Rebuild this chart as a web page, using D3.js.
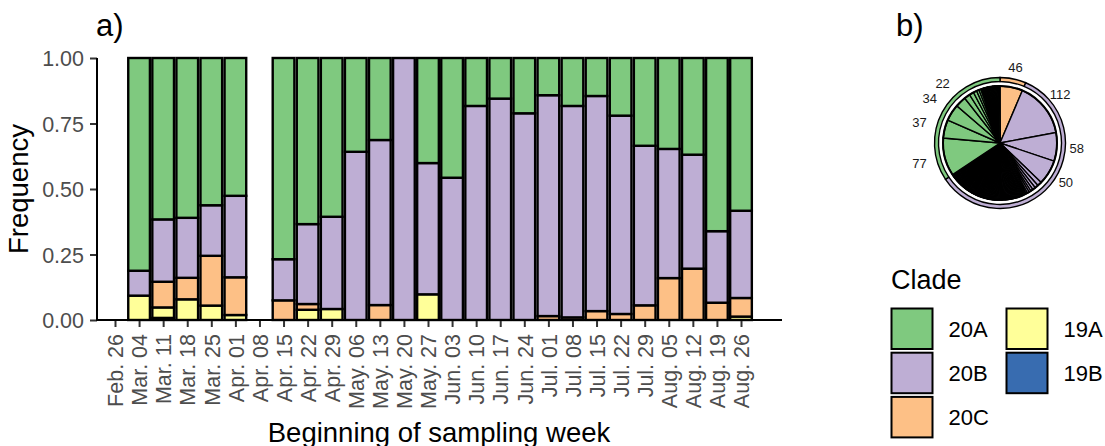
<!DOCTYPE html>
<html>
<head>
<meta charset="utf-8">
<script src="https://cdn.jsdelivr.net/npm/d3@7"></script>
<style>
  html, body { margin: 0; padding: 0; background: #fff; }
  svg { display: block; font-family: "Liberation Sans", Arial, Helvetica, sans-serif; }
</style>
</head>
<body>
<svg id="chart" width="1105" height="446"></svg>
<script>
// ---------- Data ----------
const weeks = ["Feb. 26","Mar. 04","Mar. 11","Mar. 18","Mar. 25","Apr. 01","Apr. 08","Apr. 15","Apr. 22","Apr. 29",
  "May. 06","May. 13","May. 20","May. 27","Jun. 03","Jun. 10","Jun. 17","Jun. 24","Jul. 01","Jul. 08",
  "Jul. 15","Jul. 22","Jul. 29","Aug. 05","Aug. 12","Aug. 19","Aug. 26"];

const clades = ["20A","20B","20C","19A","19B"];
const cladeColors = ["#7FC97F","#BEAED4","#FDC086","#FFFF99","#386CB0"];
const stackOrder = ["19B","19A","20C","20B","20A"];

const v19B = [0,0,.008,0,0,0,0,0,0,0,0,0,0,0,0,0,0,0,0,0,0,0,0,0,0,0,0];
const v19A = [0,.093,.040,.079,.055,.019,0,0,.039,.042,0,0,0,.098,0,0,0,0,0,0,0,0,0,0,0,0,.013];
const v20C = [0,0,.098,.082,.190,.144,0,.075,.022,0,0,.057,0,0,0,0,0,0,.015,.010,.034,.023,.056,.160,.196,.066,.071];
const v20B = [0,.095,.238,.229,.193,.311,0,.157,.305,.352,.642,.630,1,.501,.543,.817,.845,.789,.843,.807,.821,.757,.609,.493,.435,.273,.333];
const v20A = [0,.812,.616,.610,.562,.526,0,.768,.634,.606,.358,.313,0,.401,.457,.183,.155,.211,.142,.183,.145,.220,.335,.347,.369,.661,.583];

const yTicks = [0, 0.25, 0.5, 0.75, 1];

// pie (b): counts per genotype, grouped by clade, each sorted descending
const pie20C = [46];
const pie20B = [112,58,50,9,7,6,5,4,4,3,3,3,2,2,2,2,
  2,2,2,2,2,2,2,2,2,2,2,2,2,2,2,2,2,2,2,2,
  1,1,1,1,1,1,1,1,1,1, 1,1,1,1,1,1,1,1,1,1, 1,1,1,1,1,1,1,1,1,1, 1,1,1,1,1,1,1,1,1,1,
  1,1,1,1,1,1,1,1,1,1, 1,1,1,1,1,1,1,1,1,1, 1,1,1,1,1,1,1,1,1,1, 1,1,1,1,1,1,1,1,1,1,
  1,1,1,1,1,1,1,1,1,1, 1,1,1,1,1,1,1,1,1,1, 1,1,1,1,1,1,1,1,1,1, 1,1];
const pie20A = [77,37,34,22,12,9,7,5,4,3,
  1,1,1,1,1,1,1,1,1,1, 1,1,1,1,1,1,1,1,1,1, 1,1,1,1,1,1,1,1,1,1, 1,1,1,1,1,1];
const pieLabelMin = 20;

// ---------- Setup ----------
const color = d3.scaleOrdinal().domain(clades).range(cladeColors);
const svg = d3.select("#chart");
svg.append("rect").attr("width",1105).attr("height",446).attr("fill","#fff");

const FONT_TICK = 21.5, FONT_TITLE = 27.5;
const panel = {left: 97, right: 782, top: 58, bottom: 320};

const x = d3.scalePoint().domain(weeks).range([115, 741]);
const step = x.step();
const barW = step * 0.9;
const y = d3.scaleLinear().domain([0,1]).range([panel.bottom, panel.top]);

// ---------- Bars ----------
const rows = weeks.map((w,i) => ({week: w, "19B": v19B[i], "19A": v19A[i], "20C": v20C[i], "20B": v20B[i], "20A": v20A[i]}));
const filled = rows.filter(r => stackOrder.some(k => r[k] > 0));
const series = d3.stack().keys(stackOrder).offset(d3.stackOffsetExpand)(filled);

const gBars = svg.append("g");
series.forEach(s => {
  gBars.selectAll(null)
    .data(s.filter(d => d[1] - d[0] > 1e-9))
    .join("rect")
    .attr("x", d => x(d.data.week) - barW/2)
    .attr("width", barW)
    .attr("y", d => y(d[1]))
    .attr("height", d => y(d[0]) - y(d[1]))
    .attr("fill", color(s.key))
    .attr("stroke", "#000")
    .attr("stroke-width", 2.4);
});

// ---------- Axes ----------
const yAxis = d3.axisLeft(y).tickValues(yTicks).tickFormat(d3.format(".2f")).tickSize(7).tickPadding(6);
const gy = svg.append("g").attr("transform", `translate(${panel.left},0)`).call(yAxis);
gy.select(".domain").remove();
gy.selectAll(".tick line").attr("stroke","#333").attr("stroke-width",2);
gy.selectAll(".tick text").attr("fill","#4d4d4d").attr("font-size",FONT_TICK)
  .attr("font-family","Liberation Sans, Arial, sans-serif").attr("dy","0.35em");

const xAxis = d3.axisBottom(x).tickSize(7).tickPadding(0);
const gx = svg.append("g").attr("transform", `translate(0,${panel.bottom})`).call(xAxis);
gx.select(".domain").remove();
gx.selectAll(".tick line").attr("stroke","#333").attr("stroke-width",2);
gx.selectAll(".tick text")
  .attr("fill","#4d4d4d").attr("font-size",FONT_TICK)
  .attr("font-family","Liberation Sans, Arial, sans-serif")
  .attr("text-anchor","end")
  .attr("transform","translate(0,14) rotate(-90)")
  .attr("x",0).attr("y",0).attr("dy","0.36em");

// axis lines
svg.append("line").attr("x1",panel.left).attr("x2",panel.left).attr("y1",panel.top).attr("y2",panel.bottom+1)
  .attr("stroke","#000").attr("stroke-width",2);
svg.append("line").attr("x1",panel.left-1).attr("x2",panel.right).attr("y1",panel.bottom).attr("y2",panel.bottom)
  .attr("stroke","#000").attr("stroke-width",2);

// titles
svg.append("text").attr("x",439).attr("y",442).attr("text-anchor","middle")
  .attr("font-size",FONT_TITLE).attr("fill","#000").text("Beginning of sampling week");
svg.append("text").attr("transform","translate(27.5,189) rotate(-90)").attr("text-anchor","middle")
  .attr("font-size",FONT_TITLE).attr("fill","#000").text("Frequency");

svg.append("text").attr("x",96).attr("y",36).attr("font-size",31).attr("fill","#000").text("a)");
svg.append("text").attr("x",896).attr("y",36).attr("font-size",31).attr("fill","#000").text("b)");

// ---------- Pie (b) ----------
const cx = 1000, cy = 143, rPie = 57;
const pieItems = [
  ...pie20C.map(v => ({clade:"20C", v})),
  ...pie20B.map(v => ({clade:"20B", v})),
  ...pie20A.map(v => ({clade:"20A", v}))
];
const gPie = svg.append("g").attr("transform", `translate(${cx},${cy})`);
const pieArcs = d3.pie().sort(null).value(d => d.v)(pieItems);
const arc = d3.arc().innerRadius(0).outerRadius(rPie);
gPie.selectAll("path.slice").data(pieArcs).join("path")
  .attr("class","slice")
  .attr("d", arc)
  .attr("fill", d => color(d.data.clade))
  .attr("stroke","#000").attr("stroke-width",1.4).attr("stroke-linejoin","miter");
gPie.append("circle").attr("r", rPie).attr("fill","none").attr("stroke","#000").attr("stroke-width",2);

// outer clade ring
const ringItems = ["20C","20B","20A"].map(c => ({clade: c, v: d3.sum(pieItems.filter(p => p.clade === c), p => p.v)}));
const ringArcs = d3.pie().sort(null).value(d => d.v)(ringItems);
const ringArc = d3.arc().innerRadius(61.5).outerRadius(65.5);
gPie.selectAll("path.ring").data(ringArcs).join("path")
  .attr("class","ring")
  .attr("d", ringArc)
  .attr("fill", d => color(d.data.clade))
  .attr("stroke","#000").attr("stroke-width",1.4);

// labels
gPie.selectAll("text.plab").data(pieArcs.filter(d => d.data.v >= pieLabelMin)).join("text")
  .attr("class","plab")
  .attr("x", d => { const a = (d.startAngle + d.endAngle)/2; const r = a < Math.PI ? 77 : 83; return r*Math.sin(a); })
  .attr("y", d => { const a = (d.startAngle + d.endAngle)/2; const r = a < Math.PI ? 77 : 83; return -r*Math.cos(a); })
  .attr("dy","0.35em").attr("text-anchor","middle")
  .attr("font-size",13).attr("fill","#1a1a1a")
  .text(d => d.data.v);

// ---------- Legend ----------
const gLeg = svg.append("g");
gLeg.append("text").attr("x",891).attr("y",289).attr("font-size",27).attr("fill","#000").text("Clade");
const legPos = [
  {c:"20A", col:0, row:0}, {c:"20B", col:0, row:1}, {c:"20C", col:0, row:2},
  {c:"19A", col:1, row:0}, {c:"19B", col:1, row:1}
];
legPos.forEach(p => {
  const lx = p.col === 0 ? 891.5 : 1006.5;
  const ly = 308.5 + p.row * 44.2;
  gLeg.append("rect").attr("x",lx).attr("y",ly).attr("width",41).attr("height",40.5)
    .attr("fill", color(p.c)).attr("stroke","#000").attr("stroke-width",2);
  gLeg.append("text").attr("x", lx + 57).attr("y", ly + 20.5).attr("dy","0.35em")
    .attr("font-size",22).attr("fill","#000").text(p.c);
});
</script>
</body>
</html>
